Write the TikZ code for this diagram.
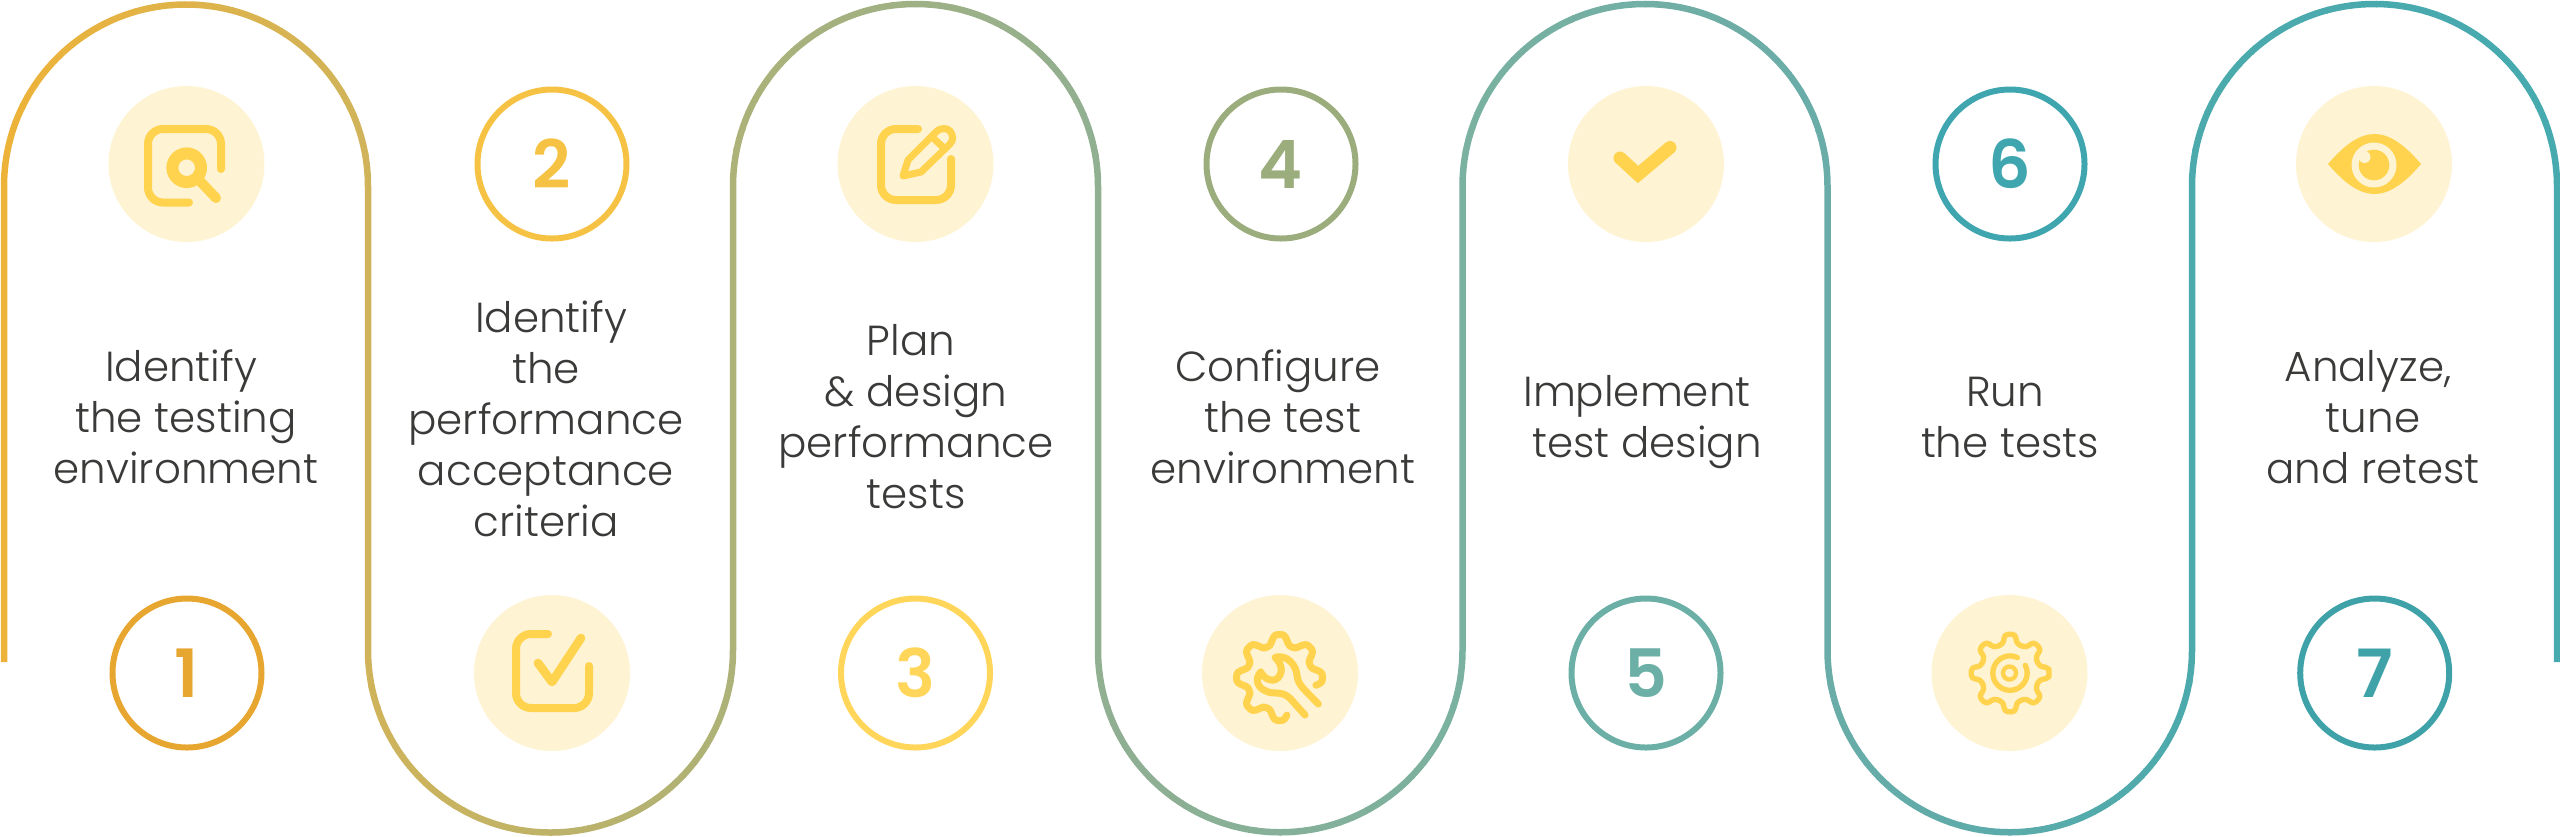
\documentclass[tikz,border=0pt]{standalone}
\usepackage{fontspec}
\newfontfamily\labf{Poppins Light}
\newfontfamily\numf{Poppins SemiBold}
\definecolor{txt}{RGB}{58,58,56}
\definecolor{ic}{RGB}{255,211,77}
\definecolor{icbg}{RGB}{254,243,210}
\definecolor{g0}{RGB}{238,179,56}
\definecolor{g1}{RGB}{208,179,90}
\definecolor{g2}{RGB}{172,178,120}
\definecolor{g3}{RGB}{145,175,145}
\definecolor{g4}{RGB}{122,177,160}
\definecolor{g5}{RGB}{105,172,168}
\definecolor{g6}{RGB}{76,170,172}
\definecolor{g7}{RGB}{70,170,175}
\definecolor{n1}{RGB}{230,166,48}
\definecolor{n2}{RGB}{246,194,68}
\definecolor{n3}{RGB}{255,214,90}
\definecolor{n4}{RGB}{155,173,124}
\definecolor{n5}{RGB}{107,175,166}
\definecolor{n6}{RGB}{63,166,176}
\definecolor{n7}{RGB}{62,162,168}
\newcommand\st{\rule[-4pt]{0pt}{11pt}}
\newcommand\ts{\hspace*{3pt}}
\newcommand\wavepath{(4,662) -- (4,186.5) arc[start angle=180,end angle=360,radius=182]
 -- (368,650) arc[start angle=180,end angle=0,radius=182.5]
 -- (733,186.5) arc[start angle=180,end angle=360,radius=182.5]
 -- (1098,650) arc[start angle=180,end angle=0,radius=182.25]
 -- (1462.5,186.5) arc[start angle=180,end angle=360,radius=182.5]
 -- (1827.5,650) arc[start angle=180,end angle=0,radius=182.25]
 -- (2192,186.5) arc[start angle=180,end angle=360,radius=182.5]
 -- (2557,662)}
\tikzset{
 x=0.3pt,y=-0.3pt,
 lab/.style={font=\labf\fontsize{12.6pt}{15.3pt}\selectfont,text=txt,align=center,inner sep=0pt},
 num/.style={circle,draw=#1,text=#1,line width=1.8pt,minimum size=44.7pt,inner sep=0pt,font=\numf\fontsize{20pt}{24pt}\selectfont},
 iconbg/.style={circle,fill=icbg,minimum size=46.8pt,inner sep=0pt},
 icl/.style={draw=ic,line width=2.4pt,line cap=round,line join=round},
}
\begin{document}
\begin{tikzpicture}
\useasboundingbox (0,0) rectangle (2560,836);
% gradient serpentine
\foreach \a/\b/\ca/\cb in {0/368/g0/g1,368/733/g1/g2,733/1098/g2/g3,1098/1462.5/g3/g4,1462.5/1827.5/g4/g5,1827.5/2192/g5/g6,2192/2560/g6/g7}{
 \foreach \i in {0,...,29}{
  \pgfmathsetmacro\xl{\a+(\b-\a)*\i/30}
  \pgfmathsetmacro\xr{\a+(\b-\a)*(\i+1)/30+0.8}
  \pgfmathsetmacro\pc{100*(\i+0.5)/30}
  \begin{scope}
   \clip (\xl,-5) rectangle (\xr,845);
   \draw[color=\cb!\pc!\ca,line width=1.95pt] \wavepath;
  \end{scope}
 }
}
% icon discs
\node[iconbg] (i1) at (186.5,164) {};
\node[iconbg] (i2) at (552,673) {};
\node[iconbg] (i3) at (915.5,164) {};
\node[iconbg] (i4) at (1280,673) {};
\node[iconbg] (i5) at (1646,164) {};
\node[iconbg] (i6) at (2009.5,673) {};
\node[iconbg] (i7) at (2374,164) {};
% number rings
\node[num=n1] (c1) at (187,673) {1};
\node[num=n2] (c2) at (552,164) {2};
\node[num=n3] (c3) at (915.5,673) {3};
\node[num=n4] (c4) at (1281,164) {4};
\node[num=n5] (c5) at (1646,673) {5};
\node[num=n6] (c6) at (2010,164) {6};
\node[num=n7] (c7) at (2374.7,673) {7};
% labels
\node[lab] (t1) at (186,423.5) {\st Identify\ts\\\st the testing\ts\\\st environment};
\node[lab] (t2) at (546,425) {\st\ts Identify\\\st the\\\st performance\\\st acceptance\\\st criteria};
\node[lab] (t3) at (916,423.5) {\st Plan\ts\\\st \& design\\\st performance\ts\\\st tests};
\node[lab] (t4) at (1283,423.5) {\st Configure\ts\\\st the test\ts\\\st environment};
\node[lab] (t5) at (1642,423.5) {\st Implement\ts\\\st\ts test design};
\node[lab] (t6) at (2010,423.5) {\st Run\ts\\\st the tests};
\node[lab] (t7) at (2373,423.5) {\st Analyze,\ts\\\st tune\\\st and retest};
% icon 1: search
\draw[icl] (221,169) -- (221,144) arc[start angle=0,end angle=-90,radius=15] -- (163,129) arc[start angle=270,end angle=180,radius=15] -- (148,187.5) arc[start angle=180,end angle=90,radius=15] -- (189,202.5);
\draw[ic,line width=3.6pt] (186.7,167.7) circle[radius=14.3];
\draw[icl,line width=3pt] (198,179) -- (216,198);
% icon 2: checkbox
\draw[icl] (548,634) -- (531,634) arc[start angle=270,end angle=180,radius=15] -- (516,693) arc[start angle=180,end angle=90,radius=15] -- (574,708) arc[start angle=90,end angle=0,radius=15] -- (589,666);
\draw[icl,line width=2.6pt] (538,663) -- (552,682) -- (581,638);
% icon 3: note and pencil
\draw[icl] (918,129) -- (896,129) arc[start angle=270,end angle=180,radius=15] -- (881,185) arc[start angle=180,end angle=90,radius=15] -- (936,200) arc[start angle=90,end angle=0,radius=15] -- (951,159);
\draw[icl,line width=2.1pt] (903,176) -- (908,160) -- (936,132) .. controls (941,127) and (947,128) .. (950,131) .. controls (953,135) and (954,140) .. (950,144) -- (921,172) -- cycle;
\draw[icl,line width=2.1pt] (932,137) -- (945,149);
% icon 4: wrench in gear
\draw[icl,line width=2.1pt] plot[smooth,samples=120,domain=-12:281] ({1279.5+(38+5*cos(8*\x)*(1.5-0.5*cos(8*\x)*cos(8*\x)))*cos(\x)},{677.5-(38+5*cos(8*\x)*(1.5-0.5*cos(8*\x)*cos(8*\x)))*sin(\x)});
\draw[icl,line width=2.1pt] (1305,715) -- (1290,698.3) .. controls (1282,690) and (1272,695) .. (1266,691) .. controls (1258,688) and (1254,680) .. (1260.7,671.7) .. controls (1264,680) and (1276,684) .. (1280,675) .. controls (1284,667) and (1278,660) .. (1275,657.3) .. controls (1287,654) and (1296,665) .. (1297,675) .. controls (1298,685) and (1303,688) .. (1318.3,704);
% icon 5: tick
\draw[ic,line width=3.9pt,line cap=round] (1620,158) -- (1638,174.5) -- (1670,147.5);
% icon 6: gear
\draw[icl,line width=1.6pt,rounded corners=1.2pt] (2049.2,673)
 \foreach \k in {0,...,7}{
  -- ({2010+39.2*cos(\k*45+8.5)},{673+39.2*sin(\k*45+8.5)})
  -- ({2010+30*cos(\k*45+12)},{673+30*sin(\k*45+12)})
  -- ({2010+30*cos(\k*45+33)},{673+30*sin(\k*45+33)})
  -- ({2010+39.2*cos(\k*45+36.5)},{673+39.2*sin(\k*45+36.5)})
 } -- cycle;
\draw[icl,line width=1.6pt] (2017.3,657.5) arc[start angle=-64.8,end angle=-387,radius=17.2];
\draw[ic,line width=1.3pt] (2009.5,673) circle[radius=6.5];
% icon 7: eye
\fill[ic] (2328,164) .. controls (2345,144) and (2360,134) .. (2374.5,134) .. controls (2389,134) and (2404,144) .. (2421,164) .. controls (2404,184) and (2389,194) .. (2374.5,194) .. controls (2360,194) and (2345,184) .. (2328,164) -- cycle;
\fill[icbg] (2374,165) circle[radius=22.5];
\fill[ic] (2374,165) circle[radius=15.3];
\fill[icbg] (2364.5,157) circle[radius=6];
\end{tikzpicture}
\end{document}
